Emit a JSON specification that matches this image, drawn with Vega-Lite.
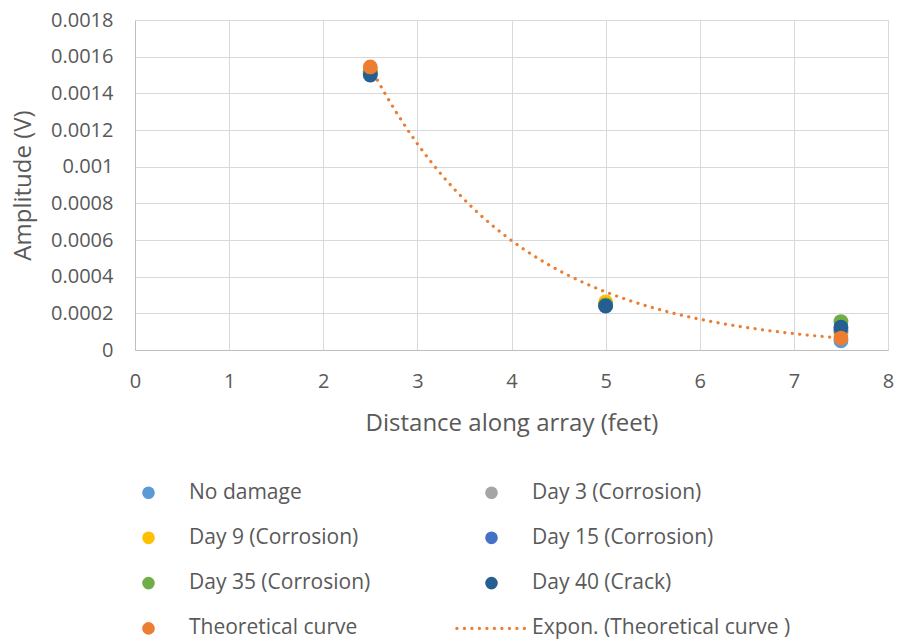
{
  "$schema": "https://vega.github.io/schema/vega-lite/v6.json",
  "width": 753,
  "height": 330,
  "autosize": {"type": "none"},
  "padding": {"left": 135, "top": 20, "right": 9, "bottom": 291},
  "background": "white",
  "config": {
    "view": {"stroke": null},
    "font": "Open Sans",
    "axis": {
      "grid": true,
      "gridColor": "#D9D9D9",
      "gridWidth": 1,
      "domainColor": "#BFBFBF",
      "ticks": false,
      "labelColor": "#595959",
      "labelFontSize": 20,
      "labelOverlap": false,
      "labelFlush": false,
      "titleColor": "#595959",
      "titleFontSize": 24,
      "titleFontWeight": "normal"
    }
  },
  "data": {
    "values": [
      {"series": "No damage", "distance": 2.5, "amplitude": 0.00152},
      {"series": "No damage", "distance": 5, "amplitude": 0.00025},
      {"series": "No damage", "distance": 7.5, "amplitude": 0.00005},
      {"series": "Day 3 (Corrosion)", "distance": 2.5, "amplitude": 0.00152},
      {"series": "Day 3 (Corrosion)", "distance": 5, "amplitude": 0.00025},
      {"series": "Day 3 (Corrosion)", "distance": 7.5, "amplitude": 0.0001},
      {"series": "Day 9 (Corrosion)", "distance": 2.5, "amplitude": 0.00153},
      {"series": "Day 9 (Corrosion)", "distance": 5, "amplitude": 0.000262},
      {"series": "Day 9 (Corrosion)", "distance": 7.5, "amplitude": 0.00009},
      {"series": "Day 15 (Corrosion)", "distance": 2.5, "amplitude": 0.00151},
      {"series": "Day 15 (Corrosion)", "distance": 5, "amplitude": 0.000245},
      {"series": "Day 15 (Corrosion)", "distance": 7.5, "amplitude": 0.00011},
      {"series": "Day 35 (Corrosion)", "distance": 2.5, "amplitude": 0.00151},
      {"series": "Day 35 (Corrosion)", "distance": 5, "amplitude": 0.000245},
      {"series": "Day 35 (Corrosion)", "distance": 7.5, "amplitude": 0.000155},
      {"series": "Day 40 (Crack)", "distance": 2.5, "amplitude": 0.0015},
      {"series": "Day 40 (Crack)", "distance": 5, "amplitude": 0.00024},
      {"series": "Day 40 (Crack)", "distance": 7.5, "amplitude": 0.000125},
      {"series": "Theoretical curve", "distance": 2.5, "amplitude": 0.001544},
      {"series": "Theoretical curve", "distance": 7.5, "amplitude": 0.000065}
    ]
  },
  "layer": [
    {
      "transform": [
        {"filter": "datum.series === 'Theoretical curve'"},
        {"regression": "amplitude", "on": "distance", "method": "exp", "extent": [2.5, 7.5]}
      ],
      "mark": {"type": "line", "strokeDash": [0.1, 7.4], "strokeCap": "round", "strokeWidth": 3.2},
      "encoding": {
        "x": {"field": "distance", "type": "quantitative"},
        "y": {"field": "amplitude", "type": "quantitative"},
        "color": {"datum": "Expon. (Theoretical curve )"}
      }
    },
    {
      "mark": {"type": "point", "filled": true, "size": 220, "opacity": 1},
      "encoding": {
        "x": {
          "field": "distance",
          "type": "quantitative",
          "scale": {"domain": [0, 8], "nice": false, "zero": true},
          "axis": {"values": [0, 1, 2, 3, 4, 5, 6, 7, 8], "tickCount": 20, "format": "d", "title": "Distance along array (feet)", "labelPadding": 21, "titlePadding": 20}
        },
        "y": {
          "field": "amplitude",
          "type": "quantitative",
          "scale": {"domain": [0, 0.0018], "nice": false},
          "axis": {
            "values": [0, 0.0002, 0.0004, 0.0006, 0.0008, 0.001, 0.0012, 0.0014, 0.0016, 0.0018],
            "tickCount": 20,
            "format": "~g",
            "title": "Amplitude (V)",
            "labelPadding": 22,
            "titlePadding": 15
          }
        },
        "color": {
          "field": "series",
          "type": "nominal",
          "scale": {
            "domain": ["No damage", "Day 3 (Corrosion)", "Day 9 (Corrosion)", "Day 15 (Corrosion)", "Day 35 (Corrosion)", "Day 40 (Crack)", "Theoretical curve", "Expon. (Theoretical curve )"],
            "range": ["#5B9BD5", "#A5A5A5", "#FFC000", "#4472C4", "#70AD47", "#255E91", "#ED7D31", "#ED7D31"]
          },
          "legend": {
            "title": null,
            "orient": "none",
            "direction": "horizontal",
            "legendX": 3,
            "legendY": 462,
            "columns": 2,
            "columnPadding": 79,
            "rowPadding": 23.3,
            "padding": 0,
            "labelFontSize": 21,
            "labelColor": "#595959",
            "labelLimit": 500,
            "labelOffset": 30,
            "symbolSize": 160,
            "symbolType": "circle",
            "encoding": {
              "symbols": {
                "shape": {"value": {"expr": "datum.value === 'Expon. (Theoretical curve )' ? 'M-1,0H1' : 'circle'"}},
                "size": {"value": {"expr": "datum.value === 'Expon. (Theoretical curve )' ? 4800 : 160"}},
                "fillOpacity": {"value": {"expr": "datum.value === 'Expon. (Theoretical curve )' ? 0 : 1"}},
                "opacity": {"value": 1},
                "stroke": {"value": {"expr": "datum.value === 'Expon. (Theoretical curve )' ? '#ED7D31' : 'transparent'"}},
                "strokeWidth": {"value": {"expr": "datum.value === 'Expon. (Theoretical curve )' ? 3.2 : 0"}},
                "strokeDash": {"value": {"expr": "datum.value === 'Expon. (Theoretical curve )' ? [0.1, 7.4] : [1, 0]"}},
                "strokeCap": {"value": "round"}
              }
            }
          }
        }
      }
    }
  ]
}
